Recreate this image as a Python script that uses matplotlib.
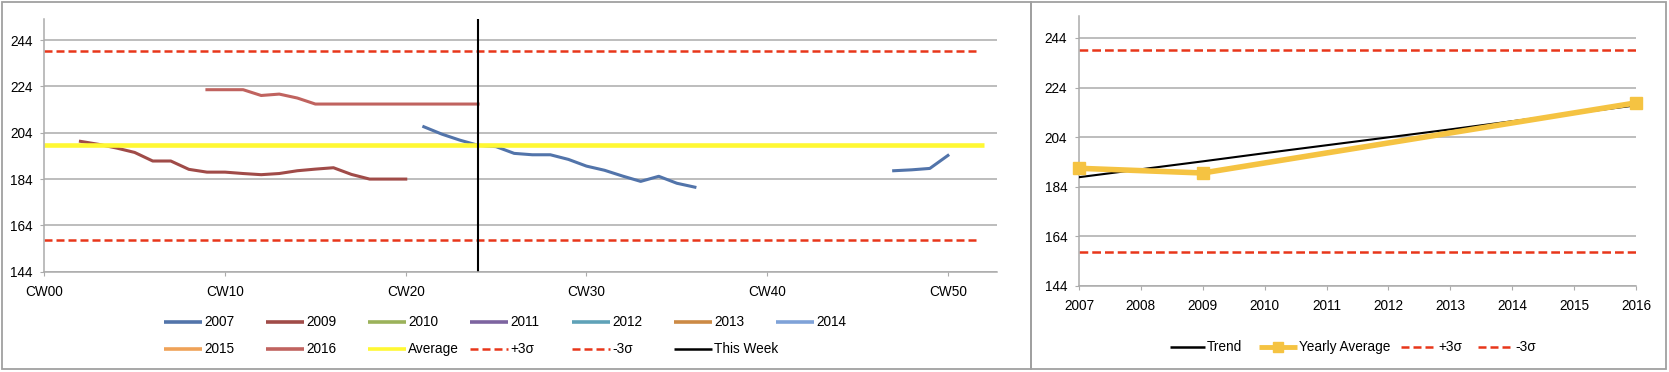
#Weekly values chart with yearly trend panel
import numpy as np
import matplotlib
matplotlib.use("Agg")
import matplotlib.pyplot as plt
from matplotlib.lines import Line2D
from matplotlib.patches import Rectangle

plt.rcParams['font.family'] = ['Liberation Sans Narrow', 'Liberation Sans', 'DejaVu Sans']

# left chart: weekly values (nan breaks the line)
weeks_2007 = [21, 22, 23, 24, 25, 26, 27, 28, 29, 30, 31, 32, 33, 34, 35, 36, 37, 47, 48, 49, 50]
values_2007 = [206.6, 203.4, 200.8, 198.6, 198.0, 195.1, 194.5, 194.5, 192.5, 189.6, 187.8, 185.3,
               183.0, 185.2, 182.2, 180.5, np.nan, 187.6, 188.0, 188.6, 194.2]
weeks_2009 = [2, 3, 4, 5, 6, 7, 8, 9, 10, 11, 12, 13, 14, 15, 16, 17, 18, 19, 20]
values_2009 = [200.3, 199.0, 197.4, 195.5, 191.8, 191.8, 188.2, 187.0, 187.0, 186.4, 185.9,
               186.4, 187.6, 188.3, 188.9, 186.0, 184.0, 184.0, 184.0]
weeks_2016 = [9, 10, 11, 12, 13, 14, 15, 16, 17, 18, 19, 20, 21, 22, 23, 24]
values_2016 = [222.6, 222.6, 222.6, 220.1, 220.7, 219.0, 216.4, 216.4, 216.4, 216.4, 216.4,
               216.4, 216.4, 216.4, 216.4, 216.4]
average_value = 198.7
plus_3sigma = 239.3
minus_3sigma = 157.7
this_week = 24
cw_ticks = [0, 10, 20, 30, 40, 50]
cw_labels = ["CW00", "CW10", "CW20", "CW30", "CW40", "CW50"]
y_ticks = [144, 164, 184, 204, 224, 244]

# right chart: yearly values
years = ["2007", "2008", "2009", "2010", "2011", "2012", "2013", "2014", "2015", "2016"]
trend = [187.8, 191.0, 194.2, 197.5, 200.7, 203.9, 207.1, 210.4, 213.6, 216.8]
yearly_avg_years = ["2007", "2009", "2016"]
yearly_avg = [191.4, 189.5, 217.8]

colors = {
	"2007": "#5274AA", "2009": "#A04B48", "2010": "#9BB25A", "2011": "#7D64A0",
	"2012": "#5FA2B8", "2013": "#CC8A45", "2014": "#7FA2D8", "2015": "#EFA258",
	"2016": "#C0635F",
}
SIGMA_RED = "#E8361A"
GRID = "#ABABAB"
YELLOW = "#FFF833"
GOLD = "#F5C342"
W, H = 1669, 372
FS = 9.8


def style_axes(ax):
	'''
	Excel-like look: grey left/bottom axis, horizontal gridlines, outward ticks.
	'''
	for side in ["top", "right"]:
		ax.spines[side].set_visible(False)
	for side in ["left", "bottom"]:
		ax.spines[side].set_color(GRID)
		ax.spines[side].set_linewidth(1.1)
	ax.yaxis.grid(True, color=GRID, lw=1.1)
	ax.set_axisbelow(True)
	ax.tick_params(axis='y', direction='out', length=3, color=GRID, labelsize=FS, pad=5.5)
	ax.tick_params(axis='x', direction='out', length=3, color=GRID, labelsize=FS, pad=6.5)
	ax.set_ylim(144, 253)
	ax.set_yticks(y_ticks)


def legend_key(fig, x, y, label, color, lw, dashes=None, marker=None, ms=0, length=38):
	'''
	Draws one legend entry at pixel position (x, y), y measured from the top.
	'''
	yy = 1 - y / H
	line = Line2D([x / W, (x + length) / W], [yy, yy], transform=fig.transFigure,
				  color=color, lw=lw, solid_capstyle='butt')
	if dashes:
		line.set_dashes(dashes)
	fig.add_artist(line)
	if marker:
		fig.add_artist(Line2D([(x + length / 2) / W], [yy], transform=fig.transFigure,
							  marker=marker, color=color, ms=ms, lw=0))
	fig.text((x + length + 2) / W, yy, label, va='center', ha='left', fontsize=FS)


def weekly_chart(fig):
	ax = fig.add_axes([44.3 / W, (H - 271.7) / H, 952.4 / W, 252.4 / H])
	style_axes(ax)
	ax.set_xlim(0, 52.7)
	ax.set_xticks(cw_ticks)
	ax.set_xticklabels(cw_labels)

	ax.plot(weeks_2007, values_2007, color=colors["2007"], lw=2.2)
	ax.plot(weeks_2009, values_2009, color=colors["2009"], lw=2.2)
	ax.plot(weeks_2016, values_2016, color=colors["2016"], lw=2.2)
	ax.plot([0, 52], [average_value, average_value], color=YELLOW, lw=3.3, solid_capstyle='butt')
	for level in [plus_3sigma, minus_3sigma]:
		ax.plot([0, 51.8], [level, level], color=SIGMA_RED, lw=1.8, dashes=(3.2, 1.6))
	ax.axvline(this_week, color="black", lw=1.5)

	# legend, two rows of seven columns
	row1 = ["2007", "2009", "2010", "2011", "2012", "2013", "2014"]
	for i, name in enumerate(row1):
		legend_key(fig, 164 + 102 * i, 321.7, name, colors[name], 2.6)
	legend_key(fig, 164, 349.3, "2015", colors["2015"], 2.6)
	legend_key(fig, 266, 349.3, "2016", colors["2016"], 2.6)
	legend_key(fig, 368, 349.3, "Average", YELLOW, 2.6)
	legend_key(fig, 470, 349.3, "+3σ", SIGMA_RED, 1.8, dashes=(3.2, 1.6))
	legend_key(fig, 572, 349.3, "-3σ", SIGMA_RED, 1.8, dashes=(3.2, 1.6))
	legend_key(fig, 674, 349.3, "This Week", "black", 1.8)


def yearly_chart(fig):
	ax = fig.add_axes([1079 / W, (H - 285.7) / H, 557 / W, 270 / H])
	style_axes(ax)
	x = np.arange(len(years))
	ax.set_xlim(0, len(years) - 1)
	ax.set_xticks(x)
	ax.set_xticklabels(years)

	pos = [years.index(y) for y in yearly_avg_years]
	ax.plot(x, trend, color="black", lw=1.5, zorder=3)
	ax.plot(pos, yearly_avg, color=GOLD, lw=4, marker='s', ms=8.5, zorder=4, clip_on=False)
	for level in [plus_3sigma, minus_3sigma]:
		ax.plot([0, len(years) - 1], [level, level], color=SIGMA_RED, lw=1.8, dashes=(3.5, 1.6))

	legend_key(fig, 1170, 347, "Trend", "black", 1.8, length=35)
	legend_key(fig, 1259, 347, "Yearly Average", GOLD, 3.5, marker='s', ms=7)
	legend_key(fig, 1401, 347, "+3σ", SIGMA_RED, 1.8, dashes=(3.2, 1.6), length=35)
	legend_key(fig, 1478, 347, "-3σ", SIGMA_RED, 1.8, dashes=(3.2, 1.6), length=35)


def panel_frames(fig):
	'''
	Grey boxes around the two panels.
	'''
	for x0, x1 in [(2, 1031), (1031, 1666)]:
		fig.add_artist(Rectangle((x0 / W, 3 / H), (x1 - x0) / W, (H - 5) / H,
								 transform=fig.transFigure, fill=False,
								 edgecolor="#A0A0A0", lw=1.3))


if __name__ == '__main__':
	fig = plt.figure(figsize=(W / 100, H / 100), dpi=100)
	weekly_chart(fig)
	yearly_chart(fig)
	panel_frames(fig)
	fig.savefig("out.png", dpi=100)
	print("Image created!")
